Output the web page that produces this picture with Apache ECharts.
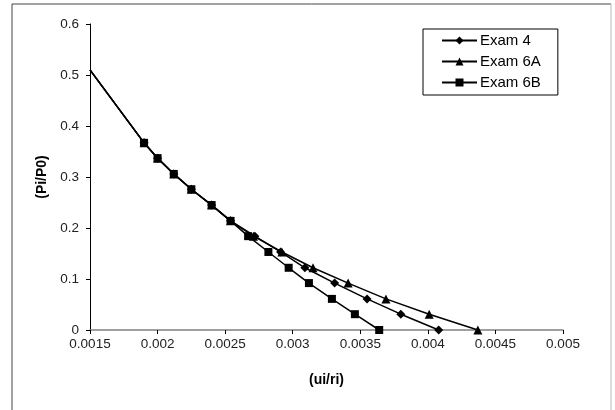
<!DOCTYPE html>
<html>
<head>
<meta charset="utf-8">
<script src="https://cdn.jsdelivr.net/npm/echarts@6/dist/echarts.min.js"></script>
<style>
  html, body { margin: 0; padding: 0; background: #fff; }
  #chart { width: 615px; height: 410px; }
</style>
</head>
<body>
<div id="chart"></div>
<script>
// shared Pi/P0 levels (y) for every exam
const yLevels = [0.51, 0.367, 0.337, 0.306, 0.276, 0.245, 0.214, 0.184, 0.153, 0.122, 0.092, 0.061, 0.031, 0];
// ui/ri values (x) per exam
const xExam4  = [0.0015, 0.0019, 0.002, 0.00212, 0.00225, 0.0024, 0.00254, 0.00272, 0.00291, 0.00309, 0.00331, 0.00355, 0.0038, 0.00408];
const xExam6A = [0.0015, 0.0019, 0.002, 0.00212, 0.00225, 0.0024, 0.00254, 0.00271, 0.00292, 0.00315, 0.00341, 0.00369, 0.00401, 0.00437];
const xExam6B = [0.0015, 0.0019, 0.002, 0.00212, 0.00225, 0.0024, 0.00254, 0.00267, 0.00282, 0.00297, 0.00312, 0.00329, 0.00346, 0.00364];
const seriesNames = ["Exam 4", "Exam 6A", "Exam 6B"];

const font = "Liberation Sans, Arial, sans-serif";

// first point is where the line enters the plot, no marker there
function toData(xs) {
  return xs.map((x, i) => {
    if (i === 0) return { value: [x, yLevels[i]], symbol: "none" };
    return [x, yLevels[i]];
  });
}

const chart = echarts.init(document.getElementById("chart"), null, { renderer: "canvas" });

const common = {
  type: "line",
  color: "#000",
  lineStyle: { color: "#000", width: 1.5 },
  itemStyle: { color: "#000" },
  showAllSymbol: true,
  animation: false,
  clip: false,
};

const option = {
  backgroundColor: "#fff",
  animation: false,
  textStyle: { fontFamily: font },
  graphic: [
    // outer frame
    { type: "line", shape: { x1: 12, y1: 4, x2: 611, y2: 4 }, style: { stroke: "#444", lineWidth: 1 } },
    { type: "line", shape: { x1: 12, y1: 4, x2: 12, y2: 410 }, style: { stroke: "#444", lineWidth: 1 } },
    { type: "line", shape: { x1: 611, y1: 4, x2: 611, y2: 410 }, style: { stroke: "#bbb", lineWidth: 1 } },
  ],
  grid: { left: 90, right: 52, top: 24, bottom: 80, containLabel: false },
  legend: {
    orient: "vertical",
    left: 423,
    top: 29,
    padding: [4, 17, 5, 18],
    itemGap: 6,
    itemWidth: 35,
    itemHeight: 10,
    borderColor: "#000",
    borderWidth: 1,
    backgroundColor: "#fff",
    textStyle: { fontFamily: font, fontSize: 15, color: "#000", padding: [0, 0, 0, -2] },
    data: seriesNames,
  },
  xAxis: {
    type: "value",
    min: 0.0015,
    max: 0.005,
    interval: 0.0005,
    name: "(ui/ri)",
    nameLocation: "middle",
    nameGap: 43,
    nameTextStyle: { fontFamily: font, fontSize: 14, fontWeight: "bold", color: "#000" },
    splitLine: { show: false },
    axisLine: { onZero: false, lineStyle: { color: "#808080", width: 1.5 } },
    axisTick: { show: true, length: 4, lineStyle: { color: "#000" } },
    axisLabel: { fontFamily: font, fontSize: 13.5, color: "#222", margin: 7, formatter: (v) => String(+v.toFixed(4)) },
  },
  yAxis: {
    type: "value",
    min: 0,
    max: 0.6,
    interval: 0.1,
    name: "(Pi/P0)",
    nameLocation: "middle",
    nameGap: 36,
    nameTextStyle: { fontFamily: font, fontSize: 14, fontWeight: "bold", color: "#000" },
    splitLine: { show: false },
    axisLine: { show: true, lineStyle: { color: "#000", width: 1 } },
    axisTick: { show: true, length: 4, lineStyle: { color: "#000" } },
    axisLabel: { fontFamily: font, fontSize: 13.5, color: "#222", margin: 11, formatter: (v) => String(+v.toFixed(1)) },
  },
  series: [
    Object.assign({}, common, { name: seriesNames[0], symbol: "diamond", symbolSize: 9, data: toData(xExam4) }),
    Object.assign({}, common, { name: seriesNames[1], symbol: "triangle", symbolSize: 9, data: toData(xExam6A) }),
    Object.assign({}, common, { name: seriesNames[2], symbol: "rect", symbolSize: 8, data: toData(xExam6B) }),
  ],
};

chart.setOption(option);
</script>
</body>
</html>
